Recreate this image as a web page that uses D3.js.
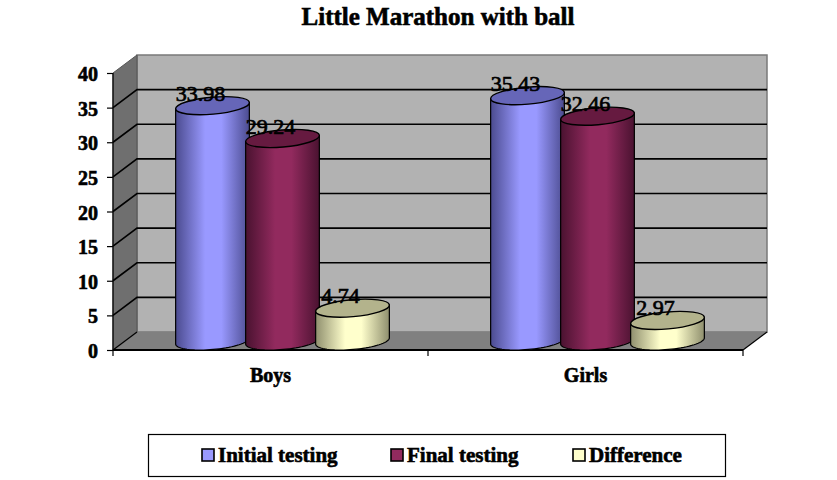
<!DOCTYPE html>
<html>
<head>
<meta charset="utf-8">
<script src="https://cdn.jsdelivr.net/npm/d3@7"></script>
<style>
  html, body { margin: 0; background: #fff; }
  svg { display: block; }
  text { font-family: "Liberation Serif", serif; fill: #000; }
  .bold { font-weight: bold; stroke: #000; stroke-width: 0.6px; }
  .axis path { display: none; }
  .axis line { stroke: #000; stroke-width: 1.2px; }
</style>
</head>
<body>
<svg id="chart" width="837" height="480"></svg>
<script>
const categories = ['Boys', 'Girls'];
const seriesNames = ['Initial testing', 'Final testing', 'Difference'];
const initialTesting = [33.98, 35.43];
const finalTesting = [29.24, 32.46];
const difference = [4.74, 2.97];
const yTicks = [0, 5, 10, 15, 20, 25, 30, 35, 40];

const seriesValues = [initialTesting, finalTesting, difference];
const colors = [
  { id: 'g0', mid: '#9999ff', edge: '#4b4b8f', top: '#6666b8' },
  { id: 'g1', mid: '#922a5e', edge: '#4a1230', top: '#661a40' },
  { id: 'g2', mid: '#ffffcc', edge: '#8f8f6e', top: '#b3b38c' }
];

const svg = d3.select('#chart');

// front plane of the fake 3d box, depth goes up and to the right
const x = d3.scaleBand().domain(categories).range([113, 743]);
const y = d3.scaleLinear().domain([0, 40]).range([350, 73]);
const depthX = 24, depthY = -18;

const x0 = x.range()[0], x1 = x.range()[1];
const y0 = y(0), y40 = y(40);

// gradients for the cylinders
const defs = svg.append('defs');
colors.forEach(c => {
  const g = defs.append('linearGradient').attr('id', c.id);
  g.append('stop').attr('offset', '0%').attr('stop-color', c.edge);
  g.append('stop').attr('offset', '40%').attr('stop-color', c.mid);
  g.append('stop').attr('offset', '62%').attr('stop-color', c.mid);
  g.append('stop').attr('offset', '100%').attr('stop-color', c.edge);
});

// walls and floor
const poly = pts => pts.map(p => p.join(',')).join(' ');
svg.append('polygon')
  .attr('points', poly([[x0 + depthX, y40 + depthY], [x1 + depthX, y40 + depthY], [x1 + depthX, y0 + depthY], [x0 + depthX, y0 + depthY]]))
  .attr('fill', '#b2b2b2').attr('stroke', '#7a7a7a').attr('stroke-width', 1.5);
svg.append('polygon')
  .attr('points', poly([[x0, y40], [x0 + depthX, y40 + depthY], [x0 + depthX, y0 + depthY], [x0, y0]]))
  .attr('fill', '#6f6f6f').attr('stroke', '#555').attr('stroke-width', 1);
svg.append('polygon')
  .attr('points', poly([[x0, y0], [x0 + depthX, y0 + depthY], [x1 + depthX, y0 + depthY], [x1, y0]]))
  .attr('fill', '#808080');

// gridlines on side wall and back wall
yTicks.filter(d => d > 0 && d < 40).forEach(d => {
  svg.append('polyline')
    .attr('points', poly([[x0, y(d)], [x0 + depthX, y(d) + depthY], [x1 + depthX, y(d) + depthY]]))
    .attr('fill', 'none').attr('stroke', '#000').attr('stroke-width', 1.6);
});
svg.append('line')
  .attr('x1', x0).attr('y1', y0).attr('x2', x0 + depthX).attr('y2', y0 + depthY)
  .attr('stroke', '#000').attr('stroke-width', 1.2);
svg.append('line')
  .attr('x1', x1).attr('y1', y0).attr('x2', x1 + depthX).attr('y2', y0 + depthY)
  .attr('stroke', '#000').attr('stroke-width', 1.2);
svg.append('line')
  .attr('x1', x0).attr('y1', y40).attr('x2', x0).attr('y2', y0)
  .attr('stroke', '#000').attr('stroke-width', 1.2);
svg.append('line')
  .attr('x1', x0).attr('y1', y0).attr('x2', x1).attr('y2', y0)
  .attr('stroke', '#000').attr('stroke-width', 2);

// axes
const yAxis = d3.axisLeft(y).tickValues(yTicks).tickSize(6).tickPadding(9);
const gy = svg.append('g').attr('class', 'axis').attr('transform', `translate(${x0},0)`).call(yAxis);
gy.selectAll('text').attr('class', 'bold').attr('dy', '0.38em').style('font-size', '20px').attr('fill', '#000');

const gx = svg.append('g').attr('class', 'axis').attr('transform', `translate(0,${y0})`);
x.domain().concat(['end']).forEach((c, i) => {
  const px = i < categories.length ? x(c) : x1;
  gx.append('line').attr('x1', px).attr('x2', px).attr('y1', 0).attr('y2', 6);
});
categories.forEach(c => {
  gx.append('text').attr('class', 'bold')
    .attr('x', x(c) + x.bandwidth() / 2).attr('y', 32)
    .attr('text-anchor', 'middle').style('font-size', '20px').text(c);
});

// cylinders
const barStep = 70, rx = 37, ry = 8.5, tilt = -5;
const tiltRad = tilt * Math.PI / 180;
const ellipsePoint = (cx, cy, t) => [
  cx + rx * Math.cos(t) * Math.cos(tiltRad) - ry * Math.sin(t) * Math.sin(tiltRad),
  cy + rx * Math.cos(t) * Math.sin(tiltRad) + ry * Math.sin(t) * Math.cos(tiltRad)
];
const outline = d3.line();

seriesValues.forEach((vals, s) => {
  const c = colors[s];
  vals.forEach((v, i) => {
    const cx = x(categories[i]) + x.bandwidth() / 2 + depthX / 2 + (s - 1) * barStep;
    const yTop = y(v) + depthY / 2;
    const yBot = y(0) + depthY / 2;
    // bottom half of the ellipse, right to left, then back up over the top
    const pts = d3.range(0, 37).map(k => ellipsePoint(cx, yBot, k / 36 * Math.PI));
    pts.push(ellipsePoint(cx, yTop, Math.PI), ellipsePoint(cx, yTop, 0));
    const g = svg.append('g');
    g.append('path')
      .attr('d', outline(pts) + 'Z')
      .attr('fill', `url(#${c.id})`).attr('stroke', '#000').attr('stroke-width', 1.2);
    g.append('ellipse')
      .attr('rx', rx).attr('ry', ry)
      .attr('transform', `translate(${cx},${yTop}) rotate(${tilt})`)
      .attr('fill', c.top).attr('stroke', '#000').attr('stroke-width', 1.4);
  });
});

// value labels go on top of everything
seriesValues.forEach((vals, s) => {
  vals.forEach((v, i) => {
    const cx = x(categories[i]) + x.bandwidth() / 2 + depthX / 2 + (s - 1) * barStep;
    svg.append('text')
      .attr('x', cx - 12).attr('y', y(v) + depthY / 2 - 5)
      .attr('text-anchor', 'middle')
      .style('stroke', '#000').style('stroke-width', '0.7px')
      .style('font-size', '22px')
      .text(v.toFixed(2));
  });
});

// title
svg.append('text').attr('class', 'bold')
  .attr('x', 438).attr('y', 25)
  .attr('text-anchor', 'middle').style('font-size', '25px')
  .text('Little Marathon with ball');

// legend
svg.append('rect')
  .attr('x', 148.5).attr('y', 434.5).attr('width', 577).attr('height', 42)
  .attr('fill', '#fff').attr('stroke', '#000').attr('stroke-width', 1.2);
const legendX = d3.scaleOrdinal().domain(seriesNames).range([202, 391, 573]);
seriesNames.forEach((name, s) => {
  const lx = legendX(name);
  svg.append('rect')
    .attr('x', lx).attr('y', 449).attr('width', 12).attr('height', 12)
    .attr('fill', colors[s].mid).attr('stroke', '#000').attr('stroke-width', 1.6);
  svg.append('text').attr('class', 'bold')
    .attr('x', lx + 16).attr('y', 462)
    .style('font-size', '21px').text(name);
});
</script>
</body>
</html>
